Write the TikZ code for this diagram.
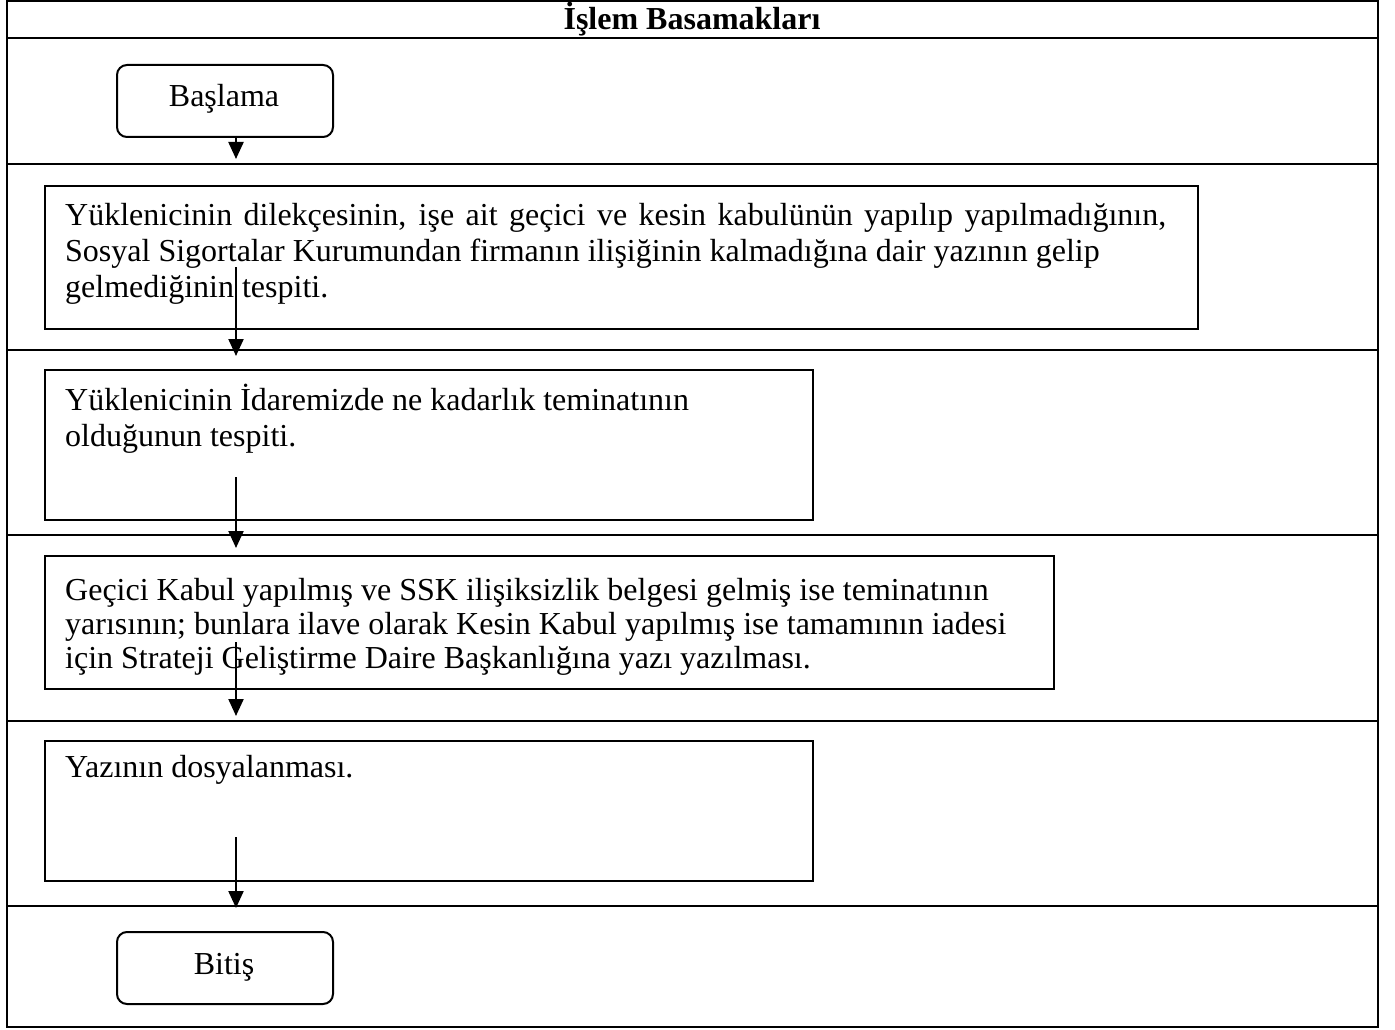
\documentclass[tikz,border=0pt]{standalone}
\usepackage{fontspec}
\setmainfont{Liberation Serif}
\usetikzlibrary{arrows.meta}
\tikzset{
  tbl/.style={line width=2.6pt, line cap=rect},
  term/.style={draw, line width=2pt, rounded corners=10pt, inner sep=0pt, anchor=north west},
  stepbox/.style={draw, line width=2pt, inner sep=0pt, anchor=north west},
  txt/.style={anchor=north west, inner sep=0pt, align=left, font=\fontsize{32}{36}\selectfont},
  flow/.style={line width=2.2pt, -{Triangle[length=17pt,width=15pt]}}
}
\begin{document}
\begin{tikzpicture}[x=1pt,y=-1pt]
\useasboundingbox (0,0) rectangle (1395,1030);
% table
\draw[tbl] (7,1) rectangle (1378,1027);
\foreach \yy in {38,164,350,535,721,906} \draw[tbl] (7,\yy) -- (1378,\yy);
\node[inner sep=0pt, anchor=base, font=\fontsize{32}{36}\selectfont\bfseries] (title) at (692,30) {İşlem Basamakları};
% terminals
\node[term, minimum width=216pt, minimum height=72pt] (bas) at (116,64) {};
\node[inner sep=0pt, anchor=base, font=\fontsize{32}{36}\selectfont] (bastxt) at (224,107) {Başlama};
\node[term, minimum width=216pt, minimum height=72pt] (bit) at (116,931) {};
\node[inner sep=0pt, anchor=base, font=\fontsize{32}{36}\selectfont] (bittxt) at (224,974) {Bitiş};
% step boxes
\node[stepbox, minimum width=1153pt, minimum height=143pt] (b1) at (44,185) {};
\node[txt] (t1) at (65,197) {\hbox to 1101pt{\rule{0pt}{28pt}Yüklenicinin dilekçesinin, işe ait geçici ve kesin kabulünün yapılıp yapılmadığının,}\\Sosyal Sigortalar Kurumundan firmanın ilişiğinin kalmadığına dair yazının gelip\\gelmediğinin tespiti.};
\node[stepbox, minimum width=768pt, minimum height=150pt] (b2) at (44,369) {};
\node[txt] (t2) at (65,382) {\rule{0pt}{28pt}Yüklenicinin İdaremizde ne kadarlık teminatının\\olduğunun tespiti.};
\node[stepbox, minimum width=1009pt, minimum height=133pt] (b3) at (44,555) {};
\node[txt, font=\fontsize{32}{34}\selectfont] (t3) at (65,572) {\rule{0pt}{28pt}Geçici Kabul yapılmış ve SSK ilişiksizlik belgesi gelmiş ise teminatının\\yarısının; bunlara ilave olarak Kesin Kabul yapılmış ise tamamının iadesi\\için Strateji Geliştirme Daire Başkanlığına yazı yazılması.};
\node[stepbox, minimum width=768pt, minimum height=140pt] (b4) at (44,740) {};
\node[txt] (t4) at (65,749) {\rule{0pt}{28pt}Yazının dosyalanması.};
% arrows
\coordinate (a1s) at (236,136); \coordinate (a1e) at (236,159);
\coordinate (a2s) at (236,267); \coordinate (a2e) at (236,356);
\coordinate (a3s) at (236,477); \coordinate (a3e) at (236,548);
\coordinate (a4s) at (236,642); \coordinate (a4e) at (236,716);
\coordinate (a5s) at (236,837); \coordinate (a5e) at (236,908);
\draw[flow] (a1s) -- (a1e);
\draw[flow] (a2s) -- (a2e);
\draw[flow] (a3s) -- (a3e);
\draw[flow] (a4s) -- (a4e);
\draw[flow] (a5s) -- (a5e);
\end{tikzpicture}
\end{document}
